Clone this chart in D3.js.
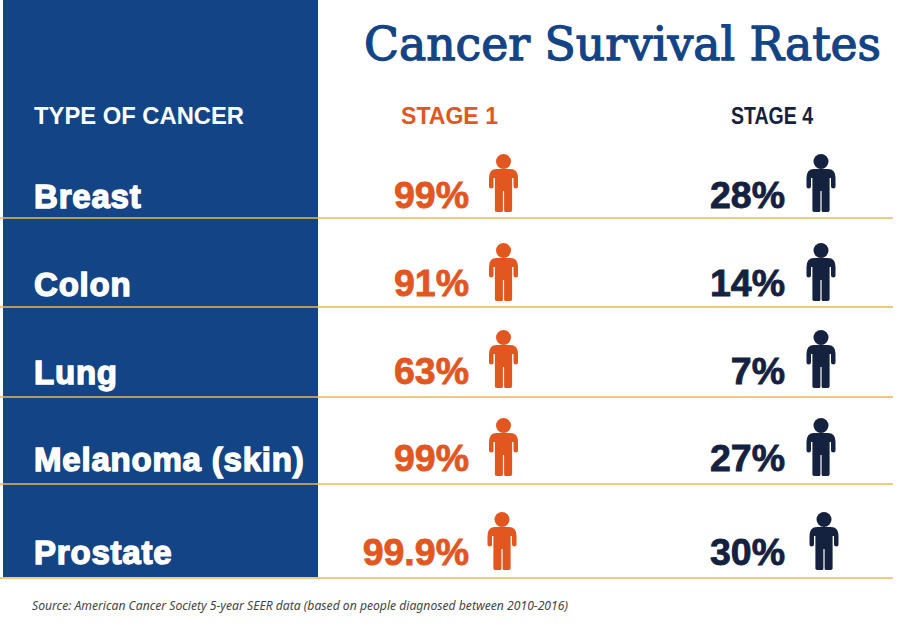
<!DOCTYPE html>
<html>
<head>
<meta charset="utf-8">
<script src="https://cdn.jsdelivr.net/npm/d3@7"></script>
<style>
  html, body { margin: 0; padding: 0; background: #fff; }
  svg { display: block; }
</style>
</head>
<body>
<svg id="chart" width="900" height="633"></svg>
<script>
const cancers = ["Breast", "Colon", "Lung", "Melanoma (skin)", "Prostate"]
const stage1 = [99, 91, 63, 99, 99.9]
const stage4 = [28, 14, 7, 27, 30]

const title = "Cancer Survival Rates"
const source = "Source: American Cancer Society 5-year SEER data (based on people diagnosed between 2010-2016)"

const blue = "#134485"
const orange = "#e2561f"
const navy = "#14213f"
const rule = "#efb655"

// rows are not evenly spaced in the original, so ordinal rather than band
const lineY = d3.scaleOrdinal().domain(cancers).range([218, 307, 397, 484, 578])
const textY = d3.scaleOrdinal().domain(cancers).range([208, 296, 384, 471, 564])
const valueY = d3.scaleOrdinal().domain(cancers).range([208, 296, 384, 471, 565])
const iconY = d3.scaleOrdinal().domain(cancers).range([212, 301, 388, 476, 570])

const svg = d3.select("#chart")

svg.append("rect")
  .attr("x", 3)
  .attr("y", 0)
  .attr("width", 315)
  .attr("height", 577)
  .attr("fill", blue)

svg.selectAll(".rule")
  .data(cancers)
  .enter()
  .append("line")
  .classed("rule", true)
  .attr("x1", 0)
  .attr("x2", 893)
  .attr("y1", d => lineY(d))
  .attr("y2", d => lineY(d))
  .attr("stroke", rule)
  .attr("stroke-width", 1.5)

svg.append("text")
  .attr("x", 364)
  .attr("y", 60)
  .attr("textLength", 517)
  .attr("lengthAdjust", "spacingAndGlyphs")
  .attr("font-family", "DejaVu Serif")
  .attr("font-size", 47)
  .attr("fill", blue)
  .attr("stroke", blue)
  .attr("stroke-width", 1.3)
  .text(title)

const headers = [
  { label: "TYPE OF CANCER", x: 34, len: 210, fill: "#fff" },
  { label: "STAGE 1", x: 401, len: 97, fill: orange },
  { label: "STAGE 4", x: 731, len: 82, fill: navy }
]

svg.selectAll(".header")
  .data(headers)
  .enter()
  .append("text")
  .classed("header", true)
  .attr("x", d => d.x)
  .attr("y", 124)
  .attr("textLength", d => d.len)
  .attr("lengthAdjust", "spacingAndGlyphs")
  .attr("font-family", "Liberation Sans")
  .attr("font-weight", "bold")
  .attr("font-size", 24)
  .attr("fill", d => d.fill)
  .text(d => d.label)

svg.selectAll(".cancer")
  .data(cancers)
  .enter()
  .append("text")
  .classed("cancer", true)
  .attr("x", 34)
  .attr("y", d => textY(d))
  .attr("font-family", "Liberation Sans")
  .attr("font-weight", "bold")
  .attr("font-size", 33)
  .attr("letter-spacing", 0.8)
  .attr("fill", "#fff")
  .attr("stroke", "#fff")
  .attr("stroke-width", 1.4)
  .text(d => d)

// person icon, origin at the bottom middle of the feet
const bodyPath = "M-7 -43H7Q14.5 -43 14.5 -34V-25.5Q14.5 -23.5 12.5 -23.5Q10 -23.5 10 -25.5V-34H8.6V-1.5Q8.6 0 6 0H2Q0.6 0 0.6 -1.5V-21H-0.6V-1.5Q-0.6 0 -2 0H-6Q-8.6 0 -8.6 -1.5V-34H-10V-25.5Q-10 -23.5 -12.5 -23.5Q-14.5 -23.5 -14.5 -25.5V-34Q-14.5 -43 -7 -43Z"

function drawStage(name, values, color, textRight, iconX, lastIconX) {
  const rows = cancers.map((c, i) => ({ cancer: c, value: values[i], last: i === cancers.length - 1 }))

  svg.selectAll("." + name + "-value")
    .data(rows)
    .enter()
    .append("text")
    .classed(name + "-value", true)
    .attr("x", textRight)
    .attr("y", d => valueY(d.cancer))
    .attr("text-anchor", "end")
    .attr("font-family", "Liberation Sans")
    .attr("font-weight", "bold")
    .attr("font-size", 37.5)
    .attr("fill", color)
    .attr("stroke", color)
    .attr("stroke-width", 0.8)
    .text(d => d.value + "%")

  const icons = svg.selectAll("." + name + "-icon")
    .data(rows)
    .enter()
    .append("g")
    .classed(name + "-icon", true)
    .attr("transform", d => "translate(" + (d.last ? lastIconX : iconX) + "," + iconY(d.cancer) + ")")
    .attr("fill", color)

  icons.append("circle")
    .attr("cy", -50.5)
    .attr("r", 7.5)

  icons.append("path")
    .attr("d", bodyPath)
}

drawStage("stage1", stage1, orange, 469, 503.5, 502)
drawStage("stage4", stage4, navy, 785, 821, 824)

svg.append("text")
  .attr("x", 32)
  .attr("y", 610)
  .attr("textLength", 536)
  .attr("lengthAdjust", "spacingAndGlyphs")
  .attr("font-family", "Noto Sans")
  .attr("font-style", "italic")
  .attr("font-size", 12)
  .attr("fill", "#444")
  .text(source)
</script>
</body>
</html>
